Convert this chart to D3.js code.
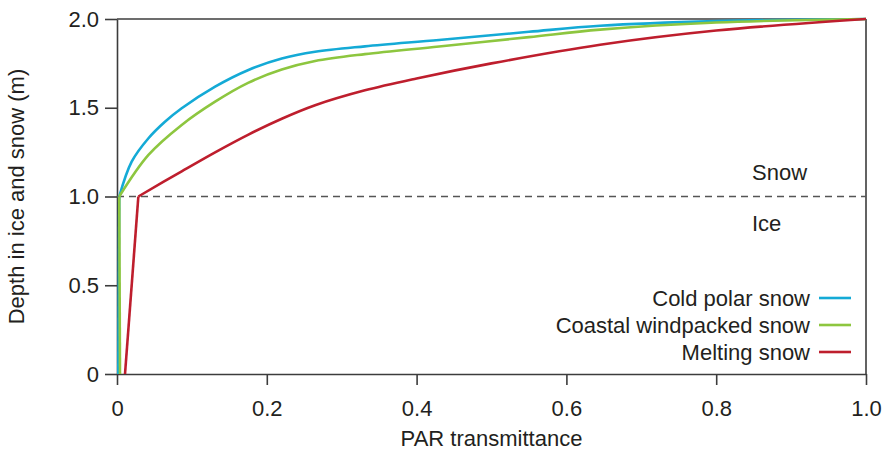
<!DOCTYPE html>
<html>
<head>
<meta charset="utf-8">
<script src="https://cdn.jsdelivr.net/npm/d3@7"></script>
<style>
  html, body { margin: 0; padding: 0; background: #fff; }
  svg { display: block; font-family: "Liberation Sans", Arial, Helvetica, sans-serif; }
</style>
</head>
<body>
<svg id="chart" width="887" height="452"></svg>
<script>
// PAR transmittance through a 1 m ice layer topped by 1 m of snow
const seriesNames = ["Cold polar snow", "Coastal windpacked snow", "Melting snow"];
const seriesColors = ["#14aad6", "#8dc63f", "#be1e2d"];

// Ice layer (depth 0–1 m): transmittance at bottom and at ice/snow interface
const iceDepth = [0, 1.0];
const coldIceT = [0.0017, 0.003];
const coastalIceT = [0.004, 0.003];
const meltingIceT = [0.0107, 0.0285];

// Snow layer (depth 1–2 m)
const coldSnowT     = [0.003, 0.0196, 0.042, 0.064, 0.0864, 0.131, 0.1755, 0.22, 0.2645, 0.331, 0.43, 0.55, 0.645, 0.8, 1.0];
const coldSnowDepth = [1.0, 1.196, 1.328, 1.421, 1.497, 1.619, 1.713, 1.777, 1.815, 1.846, 1.882, 1.928, 1.962, 1.988, 2.0];

const coastalSnowT     = [0.003, 0.042, 0.0864, 0.131, 0.175, 0.22, 0.2645, 0.331, 0.43, 0.55, 0.645, 0.8, 1.0];
const coastalSnowDepth = [1.0, 1.234, 1.403, 1.534, 1.64, 1.715, 1.763, 1.802, 1.845, 1.898, 1.94, 1.98, 2.0];

const meltingSnowT     = [0.0285, 0.0864, 0.131, 0.1755, 0.22, 0.2645, 0.331, 0.4, 0.5, 0.645, 0.8, 1.0];
const meltingSnowDepth = [1.0, 1.142, 1.249, 1.349, 1.438, 1.514, 1.598, 1.665, 1.75, 1.855, 1.935, 2.0];

const xTickValues = [0, 0.2, 0.4, 0.6, 0.8, 1.0];
const xTickLabels = ["0", "0.2", "0.4", "0.6", "0.8", "1.0"];
const yTickValues = [0, 0.5, 1.0, 1.5, 2.0];
const yTickLabels = ["0", "0.5", "1.0", "1.5", "2.0"];

const interfaceDepth = 1.0;

const svg = d3.select("#chart");
const plotLeft = 117, plotRight = 866, plotTop = 19, plotBottom = 374;
const x = d3.scaleLinear().domain([0, 1]).range([plotLeft, plotRight]);
const y = d3.scaleLinear().domain([0, 2]).range([plotBottom, plotTop]);
const axisColor = "#3c3c3c";
const textColor = "#231f20";
const fontSize = "22px";

// Frame: top and right borders
svg.append("line").attr("x1", x(0)).attr("x2", x(1)).attr("y1", y(2)).attr("y2", y(2))
  .attr("stroke", axisColor).attr("stroke-width", 1.6);
svg.append("line").attr("x1", x(1)).attr("x2", x(1)).attr("y1", y(2)).attr("y2", y(0))
  .attr("stroke", axisColor).attr("stroke-width", 1.6);

// Axes
const xAxis = d3.axisBottom(x).tickValues(xTickValues)
  .tickFormat((d, i) => xTickLabels[i]).tickSize(11).tickSizeOuter(0).tickPadding(15);
const yAxis = d3.axisLeft(y).tickValues(yTickValues)
  .tickFormat((d, i) => yTickLabels[i]).tickSize(12).tickSizeOuter(0).tickPadding(6);

const gx = svg.append("g").attr("transform", `translate(0,${y(0)})`).call(xAxis);
const gy = svg.append("g").attr("transform", `translate(${x(0)},0)`).call(yAxis);
[gx, gy].forEach(g => {
  g.select(".domain").attr("stroke", axisColor).attr("stroke-width", 1.6);
  g.selectAll(".tick line").attr("stroke", axisColor).attr("stroke-width", 1.6);
  g.selectAll(".tick text").attr("fill", textColor)
    .style("font-size", fontSize).style("font-family", "'Liberation Sans', Arial, sans-serif");
});

// Ice/snow interface
svg.append("line")
  .attr("x1", x(0)).attr("x2", x(1))
  .attr("y1", y(interfaceDepth)).attr("y2", y(interfaceDepth))
  .attr("stroke", "#555").attr("stroke-width", 1.4).attr("stroke-dasharray", "7,5");

svg.append("text").attr("x", 752).attr("y", 180).attr("fill", textColor)
  .style("font-size", fontSize).text("Snow");
svg.append("text").attr("x", 752).attr("y", 231).attr("fill", textColor)
  .style("font-size", fontSize).text("Ice");

// Curves
const series = [
  { ice: [coldIceT, iceDepth], snow: [coldSnowT, coldSnowDepth] },
  { ice: [coastalIceT, iceDepth], snow: [coastalSnowT, coastalSnowDepth] },
  { ice: [meltingIceT, iceDepth], snow: [meltingSnowT, meltingSnowDepth] }
];
const lineIce = d3.line().x(d => x(d[0])).y(d => y(d[1]));
const lineSnow = d3.line().x(d => x(d[0])).y(d => y(d[1])).curve(d3.curveCatmullRom.alpha(0.5));

series.forEach((s, i) => {
  const icePts = s.ice[0].map((t, j) => [t, s.ice[1][j]]);
  const snowPts = s.snow[0].map((t, j) => [t, s.snow[1][j]]);
  const g = svg.append("g").attr("fill", "none").attr("stroke", seriesColors[i])
    .attr("stroke-width", 2.6).attr("stroke-linejoin", "round");
  g.append("path").attr("d", lineIce(icePts));
  g.append("path").attr("d", lineSnow(snowPts));
});

// Legend
const legend = svg.append("g");
seriesNames.forEach((name, i) => {
  const cy = 298 + i * 27;
  legend.append("text").attr("x", 810).attr("y", cy).attr("dy", "0.35em")
    .attr("text-anchor", "end").attr("fill", textColor)
    .style("font-size", fontSize).text(name);
  legend.append("line").attr("x1", 819).attr("x2", 851).attr("y1", cy).attr("y2", cy)
    .attr("stroke", seriesColors[i]).attr("stroke-width", 2.6);
});

// Axis titles
svg.append("text").attr("x", (plotLeft + plotRight) / 2).attr("y", 446)
  .attr("text-anchor", "middle").attr("fill", textColor)
  .style("font-size", fontSize).text("PAR transmittance");
svg.append("text").attr("transform", `translate(24,${(plotTop + plotBottom) / 2}) rotate(-90)`)
  .attr("text-anchor", "middle").attr("fill", textColor)
  .style("font-size", fontSize).text("Depth in ice and snow (m)");
</script>
</body>
</html>
